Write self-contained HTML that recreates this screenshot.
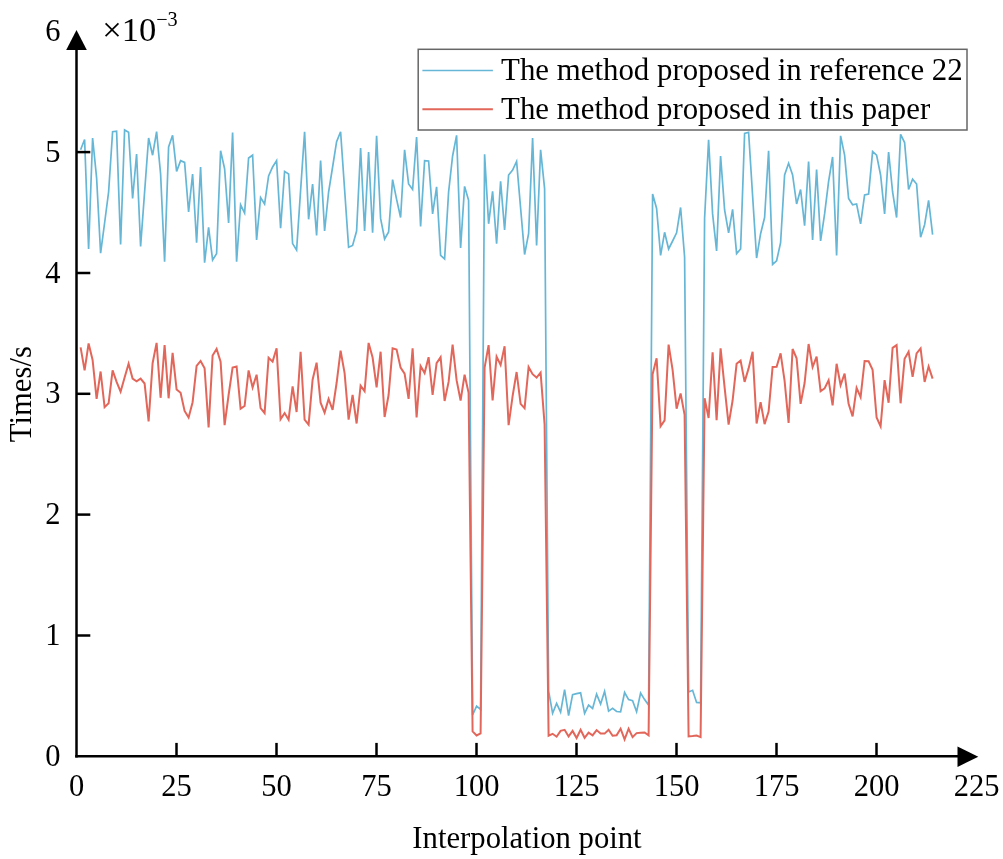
<!DOCTYPE html>
<html><head><meta charset="utf-8"><title>chart</title>
<style>
html,body{margin:0;padding:0;background:#fff;}
body{width:1003px;height:859px;overflow:hidden;font-family:"Liberation Serif",serif;}
svg{display:block;will-change:transform;}
text{font-family:"Liberation Serif",serif;font-size:30.5px;fill:#000;}
</style></head><body>
<svg width="1003" height="859" viewBox="0 0 1003 859">
<rect width="1003" height="859" fill="#fff"/>
<polyline fill="none" stroke="#66b6d6" stroke-width="1.7" stroke-linejoin="miter" points="80.6,149.8 84.6,139.5 88.6,249.0 92.6,138.0 96.6,177.8 100.6,253.2 104.6,223.0 108.6,192.0 112.6,131.7 116.6,131.2 120.6,244.5 124.6,130.0 128.6,132.3 132.6,198.5 136.6,154.0 140.6,246.4 144.6,192.0 148.6,138.0 152.6,155.2 156.6,131.7 160.6,174.0 164.6,261.7 168.6,147.0 172.6,135.3 176.6,171.4 180.6,160.6 184.6,162.4 188.6,212.0 192.6,174.0 196.6,242.7 200.6,167.0 204.6,262.6 208.6,227.4 212.6,260.0 216.6,253.6 220.6,150.7 224.6,168.7 228.6,222.9 232.6,132.6 236.6,261.7 240.6,204.8 244.6,213.0 248.6,158.0 252.6,155.2 256.6,240.0 260.6,197.6 264.6,204.0 268.6,176.0 272.6,167.0 276.6,160.6 280.6,228.3 284.6,171.4 288.6,174.0 292.6,243.6 296.6,250.0 300.6,190.4 304.6,131.7 308.6,219.3 312.6,184.0 316.6,235.5 320.6,160.6 324.6,231.0 328.6,192.0 332.6,167.0 336.6,141.7 340.6,131.7 344.6,189.5 348.6,247.3 352.6,245.5 356.6,231.0 360.6,148.0 364.6,231.0 368.6,152.0 372.6,232.8 376.6,135.9 380.6,218.4 384.6,239.0 388.6,232.0 392.6,179.6 396.6,199.4 400.6,217.5 404.6,149.8 408.6,184.0 412.6,189.5 416.6,137.0 420.6,226.5 424.6,160.6 428.6,161.0 432.6,213.9 436.6,186.8 440.6,255.4 444.6,259.0 448.6,192.0 452.6,156.0 456.6,135.3 460.6,248.0 464.6,186.4 468.6,200.3 472.6,715.0 476.6,706.2 480.6,709.5 484.6,154.3 488.6,223.8 492.6,191.3 496.6,243.6 500.6,181.4 504.6,230.0 508.6,175.0 512.6,170.0 516.6,161.5 520.6,208.0 524.6,254.5 528.6,233.7 532.6,138.0 536.6,245.5 540.6,149.8 544.6,188.6 548.6,690.8 552.6,713.3 556.6,703.5 560.6,712.2 564.6,689.7 568.6,715.5 572.6,694.7 576.6,693.6 580.6,692.8 584.6,713.3 588.6,705.1 592.6,708.4 596.6,694.1 600.6,704.0 604.6,691.4 608.6,711.1 612.6,708.4 616.6,711.5 620.6,711.9 624.6,692.5 628.6,699.6 632.6,700.7 636.6,711.7 640.6,693.0 644.6,699.6 648.6,705.1 652.6,194.0 656.6,208.4 660.6,255.4 664.6,232.3 668.6,249.0 672.6,241.0 676.6,232.8 680.6,207.5 684.6,257.0 688.6,692.0 692.6,690.3 696.6,702.4 700.6,702.9 704.6,218.0 708.6,139.9 712.6,213.9 716.6,250.9 720.6,156.0 724.6,210.0 728.6,232.8 732.6,209.4 736.6,253.6 740.6,249.0 744.6,133.5 748.6,132.3 752.6,195.8 756.6,258.0 760.6,233.7 764.6,217.5 768.6,150.7 772.6,264.4 776.6,260.8 780.6,242.7 784.6,175.0 788.6,163.3 792.6,175.0 796.6,204.0 800.6,189.5 804.6,225.6 808.6,161.5 812.6,240.0 816.6,169.6 820.6,241.0 824.6,213.9 828.6,181.4 832.6,157.0 836.6,255.4 840.6,135.9 844.6,155.2 848.6,198.5 852.6,204.8 856.6,204.0 860.6,223.8 864.6,195.0 868.6,194.0 872.6,151.6 876.6,155.2 880.6,175.0 884.6,213.9 888.6,152.0 892.6,192.0 896.6,217.5 900.6,134.4 904.6,142.6 908.6,189.5 912.6,179.2 916.6,184.0 920.6,237.3 924.6,224.7 928.6,200.3 932.6,234.6"/>
<polyline fill="none" stroke="#e2675a" stroke-width="2" stroke-linejoin="miter" points="80.6,347.3 84.6,370.4 88.6,343.5 92.6,359.9 96.6,398.9 100.6,371.5 104.6,407.1 108.6,403.3 112.6,370.4 116.6,381.9 120.6,391.7 124.6,377.5 128.6,363.8 132.6,378.6 136.6,381.3 140.6,378.6 144.6,383.5 148.6,421.4 152.6,363.2 156.6,342.9 160.6,397.8 164.6,345.1 168.6,398.3 172.6,352.8 176.6,389.5 180.6,392.8 184.6,410.9 188.6,417.5 192.6,402.2 196.6,366.0 200.6,361.0 204.6,368.2 208.6,427.4 212.6,355.5 216.6,349.0 220.6,361.6 224.6,425.2 228.6,395.0 232.6,367.6 236.6,366.5 240.6,408.7 244.6,406.0 248.6,370.4 252.6,387.4 256.6,374.7 260.6,408.2 264.6,413.1 268.6,357.7 272.6,361.6 276.6,348.2 280.6,419.2 284.6,413.1 288.6,419.7 292.6,386.3 296.6,412.0 300.6,351.7 304.6,419.7 308.6,424.6 312.6,379.7 316.6,362.7 320.6,402.7 324.6,412.6 328.6,398.9 332.6,409.8 336.6,383.0 340.6,350.6 344.6,373.1 348.6,419.7 352.6,395.0 356.6,423.5 360.6,385.7 364.6,391.2 368.6,342.9 372.6,357.5 376.6,387.4 380.6,351.7 384.6,417.0 388.6,395.0 392.6,348.4 396.6,349.5 400.6,367.6 404.6,373.6 408.6,398.9 412.6,348.4 416.6,417.5 420.6,366.0 424.6,373.1 428.6,357.2 432.6,395.0 436.6,363.2 440.6,357.2 444.6,401.0 448.6,381.9 452.6,344.6 456.6,380.2 460.6,400.5 464.6,374.7 468.6,392.8 472.6,731.4 476.6,735.5 480.6,733.5 484.6,367.6 488.6,345.1 492.6,400.5 496.6,356.6 500.6,364.9 504.6,346.2 508.6,425.2 512.6,396.1 516.6,372.0 520.6,403.8 524.6,408.2 528.6,367.0 532.6,374.2 536.6,377.5 540.6,372.5 544.6,424.6 548.6,735.6 552.6,733.8 556.6,736.7 560.6,730.9 564.6,729.8 568.6,736.4 572.6,730.9 576.6,738.0 580.6,729.8 584.6,737.8 588.6,732.7 592.6,735.3 596.6,730.1 600.6,733.4 604.6,733.6 608.6,729.8 612.6,735.8 616.6,735.3 620.6,728.7 624.6,739.3 628.6,728.7 632.6,737.1 636.6,733.1 640.6,732.7 644.6,732.5 648.6,735.3 652.6,374.2 656.6,358.3 660.6,426.3 664.6,420.3 668.6,344.6 672.6,369.8 676.6,408.7 680.6,393.4 684.6,414.8 688.6,736.4 692.6,736.1 696.6,735.6 700.6,737.1 704.6,398.3 708.6,418.0 712.6,352.3 716.6,420.3 720.6,348.4 724.6,387.4 728.6,424.6 732.6,400.5 736.6,363.8 740.6,360.5 744.6,381.9 748.6,368.4 752.6,351.7 756.6,423.5 760.6,402.2 764.6,424.1 768.6,411.5 772.6,367.0 776.6,366.7 780.6,353.4 784.6,380.8 788.6,423.0 792.6,349.0 796.6,358.3 800.6,403.8 804.6,383.0 808.6,344.0 812.6,367.0 816.6,356.6 820.6,391.2 824.6,388.4 828.6,380.2 832.6,405.4 836.6,363.8 840.6,385.2 844.6,373.6 848.6,403.8 852.6,416.4 856.6,387.9 860.6,397.2 864.6,361.0 868.6,361.3 872.6,369.8 876.6,417.5 880.6,426.3 884.6,380.2 888.6,402.7 892.6,347.9 896.6,345.1 900.6,403.3 904.6,358.8 908.6,351.7 912.6,376.9 916.6,353.4 920.6,348.4 924.6,381.9 928.6,366.5 932.6,378.6"/>
<g stroke="#000" stroke-width="2.5" fill="none">
<line x1="76.5" y1="45" x2="76.5" y2="757.5999999999999"/>
<line x1="75.2" y1="756.3" x2="960" y2="756.3"/>
<line x1="176.5" y1="756.3" x2="176.5" y2="742.9"/><line x1="276.5" y1="756.3" x2="276.5" y2="742.9"/><line x1="376.5" y1="756.3" x2="376.5" y2="742.9"/><line x1="476.5" y1="756.3" x2="476.5" y2="742.9"/><line x1="576.5" y1="756.3" x2="576.5" y2="742.9"/><line x1="676.5" y1="756.3" x2="676.5" y2="742.9"/><line x1="776.5" y1="756.3" x2="776.5" y2="742.9"/><line x1="876.5" y1="756.3" x2="876.5" y2="742.9"/>
<line x1="76.5" y1="635.5" x2="90.3" y2="635.5"/><line x1="76.5" y1="514.6" x2="90.3" y2="514.6"/><line x1="76.5" y1="393.8" x2="90.3" y2="393.8"/><line x1="76.5" y1="273.0" x2="90.3" y2="273.0"/><line x1="76.5" y1="152.1" x2="90.3" y2="152.1"/>
</g>
<polygon points="76.5,30 66.2,50 86.8,50" fill="#000"/>
<polygon points="978.3,756.7 957.5,746.5 957.5,766.9" fill="#000"/>
<text x="76.5" y="796" text-anchor="middle">0</text><text x="176.5" y="796" text-anchor="middle">25</text><text x="276.5" y="796" text-anchor="middle">50</text><text x="376.5" y="796" text-anchor="middle">75</text><text x="476.5" y="796" text-anchor="middle">100</text><text x="576.5" y="796" text-anchor="middle">125</text><text x="676.5" y="796" text-anchor="middle">150</text><text x="776.5" y="796" text-anchor="middle">175</text><text x="876.5" y="796" text-anchor="middle">200</text><text x="976.5" y="796" text-anchor="middle">225</text>
<text x="60.5" y="765.9" text-anchor="end">0</text><text x="60.5" y="645.1" text-anchor="end">1</text><text x="60.5" y="524.2" text-anchor="end">2</text><text x="60.5" y="403.4" text-anchor="end">3</text><text x="60.5" y="282.6" text-anchor="end">4</text><text x="60.5" y="161.7" text-anchor="end">5</text><text x="60.5" y="40.9" text-anchor="end">6</text>
<text x="102.2" y="40.5" style="font-size:34.6px">×10</text>
<text x="156.2" y="26.4" style="font-size:20.2px">−3</text>
<text x="527" y="848" text-anchor="middle" style="font-size:30.7px">Interpolation point</text>
<text transform="translate(31.4,394.2) rotate(-90)" text-anchor="middle" style="font-size:30.7px">Times/s</text>
<rect x="418.2" y="49.3" width="548.8" height="80.7" fill="#fff" stroke="#666" stroke-width="1.5"/>
<line x1="422.4" y1="70.5" x2="492.9" y2="70.5" stroke="#66b6d6" stroke-width="1.7"/>
<line x1="422.4" y1="109.2" x2="492.9" y2="109.2" stroke="#e2675a" stroke-width="2"/>
<text x="501.1" y="80.2" style="font-size:30.85px">The method proposed in reference 22</text>
<text x="501.1" y="119.2" style="font-size:30.85px">The method proposed in this paper</text>
</svg>
</body></html>
